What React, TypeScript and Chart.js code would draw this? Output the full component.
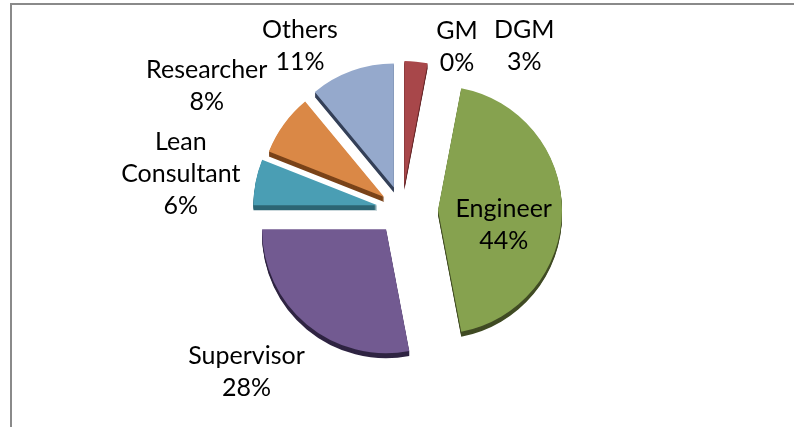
import React, { useEffect, useRef } from 'react';
import { Chart, registerables } from 'chart.js';

Chart.register(...registerables);

// ---- data ----
const categories = ['GM', 'DGM', 'Engineer', 'Supervisor', 'Lean Consultant', 'Researcher', 'Others'];
const shares = [0, 3, 44, 28, 6, 8, 11];

// ---- styles ----
const topColors = ['#4F81BD', '#A8474A', '#86A24F', '#725A91', '#4A9EB4', '#DA8846', '#95A9CC'];
const sideColors = ['#2C4D75', '#662829', '#404B24', '#2F2442', '#2C6674', '#7A4319', '#344058'];
const explode = [24, 25, 36, 25, 25, 22, 24];
const labelRadius = [1.45, 1.45, 0.53, 1.45, 1.45, 1.45, 1.45];
const labelNudge = [[55, 41], [103, 40], [0, 15], [-25, 4], [-20, 2], [-32, -5], [-33, 28]];

const FONT = '25px Lato';
const LINE_H = 32;
const DEPTH = 5;

function wrapLines(ctx: CanvasRenderingContext2D, text: string, maxW: number): string[] {
  if (ctx.measureText(text).width <= maxW) return [text];
  const words = text.split(' ');
  const lines: string[] = [];
  let cur = '';
  for (const w of words) {
    const t = cur ? cur + ' ' + w : w;
    if (cur && ctx.measureText(t).width > maxW) {
      lines.push(cur);
      cur = w;
    } else cur = t;
  }
  if (cur) lines.push(cur);
  return lines;
}

const explodedPie = {
  id: 'explodedPie',
  beforeDatasetDraw(chart: any, args: any) {
    const ctx: CanvasRenderingContext2D = chart.ctx;
    const els = args.meta.data;
    // 3D side (extrusion)
    els.forEach((el: any, i: number) => {
      const mid = (el.startAngle + el.endAngle) / 2;
      const dx = Math.cos(mid) * explode[i];
      const dy = Math.sin(mid) * explode[i];
      const orig = el.options;
      el.options = Object.assign({}, orig, { backgroundColor: sideColors[i], borderWidth: 0 });
      for (let d = DEPTH; d >= 1; d--) {
        ctx.save();
        ctx.translate(dx, dy + d);
        el.draw(ctx);
        ctx.restore();
      }
      el.options = orig;
    });
    // top faces
    els.forEach((el: any, i: number) => {
      const mid = (el.startAngle + el.endAngle) / 2;
      const dx = Math.cos(mid) * explode[i];
      const dy = Math.sin(mid) * explode[i];
      ctx.save();
      ctx.translate(dx, dy);
      el.draw(ctx);
      ctx.restore();
    });
    return false;
  },
  afterDatasetsDraw(chart: any) {
    const ctx: CanvasRenderingContext2D = chart.ctx;
    const meta = chart.getDatasetMeta(0);
    const data = chart.data.datasets[0].data as number[];
    const total = data.reduce((a, b) => a + b, 0);
    ctx.save();
    ctx.font = FONT;
    ctx.fillStyle = '#000';
    ctx.textAlign = 'center';
    ctx.textBaseline = 'middle';
    meta.data.forEach((el: any, i: number) => {
      const mid = (el.startAngle + el.endAngle) / 2;
      const dist = explode[i] + el.outerRadius * labelRadius[i];
      const cx = el.x + Math.cos(mid) * dist + labelNudge[i][0];
      const cy = el.y + Math.sin(mid) * dist + labelNudge[i][1];
      const lines = wrapLines(ctx, String(chart.data.labels[i]), 130);
      lines.push(Math.round((data[i] / total) * 100) + '%');
      const n = lines.length;
      lines.forEach((ln, j) => {
        ctx.fillText(ln, cx, cy + (j - (n - 1) / 2) * LINE_H);
      });
    });
    ctx.restore();
  },
};

export default function App() {
  const ref = useRef<HTMLCanvasElement | null>(null);
  useEffect(() => {
    if (!ref.current) return;
    const chart = new Chart(ref.current, {
      type: 'pie',
      data: {
        labels: categories,
        datasets: [
          {
            data: shares,
            backgroundColor: topColors,
            borderWidth: 0,
            radius: 124,
          } as any,
        ],
      },
      options: {
        responsive: false,
        animation: false,
        layout: { padding: { left: 10, right: 0, top: 0, bottom: 7 } },
        plugins: { legend: { display: false }, tooltip: { enabled: false } },
      },
      plugins: [explodedPie as any],
    });
    return () => chart.destroy();
  }, []);
  return (
    <div style={{ position: 'relative', width: 794, height: 427, overflow: 'hidden', background: '#fff' }}>
      <style>{'body{margin:0}'}</style>
      <div
        style={{
          position: 'absolute',
          left: 10,
          top: 3,
          width: 900,
          height: 600,
          borderTop: '2px solid #8a8a8a',
          borderLeft: '2px solid #8a8a8a',
        }}
      />
      <canvas ref={ref} width={794} height={427} style={{ position: 'absolute', left: 0, top: 0, width: 794, height: 427 }} />
    </div>
  );
}
